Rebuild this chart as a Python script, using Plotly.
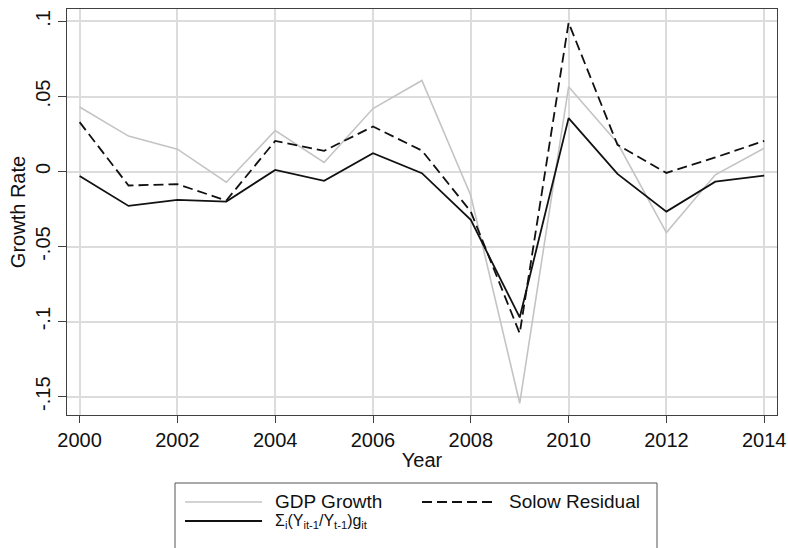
import plotly.graph_objects as go

# Annual growth rates, 2000-2014
years = list(range(2000, 2015))
gdp_growth = [0.043, 0.0236, 0.0149, -0.0071, 0.0273, 0.006, 0.042, 0.0607,
              -0.016, -0.1544, 0.0565, 0.019, -0.0407, -0.0022, 0.0156]
solow_residual = [0.0329, -0.0093, -0.0084, -0.0193, 0.0204, 0.0138, 0.030, 0.014,
                  -0.0267, -0.1078, 0.0992, 0.0178, -0.0009, 0.0094, 0.0204]
weighted_sum = [-0.0029, -0.0229, -0.0189, -0.020, 0.0011, -0.0062, 0.0122, -0.0011,
                -0.0322, -0.0972, 0.0356, -0.0016, -0.0267, -0.0067, -0.0027]

x_ticks = list(range(2000, 2015, 2))
y_tick_vals = [0.1, 0.05, 0.0, -0.05, -0.1, -0.15]
y_tick_text = [".1", ".05", "0", "-.05", "-.1", "-.15"]

series_labels = [
    "GDP Growth",
    "Solow Residual",
    "\u03a3<sub>i</sub>(Y<sub>it-1</sub>/Y<sub>t-1</sub>)g<sub>it</sub>",
]
series_values = [gdp_growth, solow_residual, weighted_sum]
series_styles = [
    dict(color="#c4c4c4", width=1.6, dash="solid"),
    dict(color="#111111", width=1.8, dash="10px,5px"),
    dict(color="#111111", width=1.8, dash="solid"),
]

FONT = "Liberation Sans, Arial, sans-serif"
W, H = 788, 548
ML, MR, MT, MB = 67, 11, 9, 133

fig = go.Figure()
for label, vals, style in zip(series_labels, series_values, series_styles):
    fig.add_trace(go.Scatter(x=years, y=vals, mode="lines", name=label,
                             line=style, showlegend=False))

# Boxed legend below the plot: two columns, second row holds the third series
plot_w = W - ML - MR
plot_h = H - MT - MB


def px_x(px):
    return (px - ML) / plot_w


def px_y(py):
    return (H - MB - py) / plot_h


legend_slots = [(185, 502), (422, 502), (185, 521)]
sample_len = [77, 71, 77]
text_off = [88, 85, 88]
legend_font = [19, 19, 16]
shapes = [dict(type="rect", xref="paper", yref="paper",
               x0=px_x(175), x1=px_x(657), y0=px_y(483), y1=px_y(600),
               line=dict(color="#555555", width=1), fillcolor="rgba(0,0,0,0)")]
annotations = []
for i, (label, style) in enumerate(zip(series_labels, series_styles)):
    sx, sy = legend_slots[i]
    shapes.append(dict(type="line", xref="paper", yref="paper",
                       x0=px_x(sx), x1=px_x(sx + sample_len[i]),
                       y0=px_y(sy), y1=px_y(sy), line=style))
    annotations.append(dict(xref="paper", yref="paper", x=px_x(sx + text_off[i]),
                            y=px_y(sy), text=label, showarrow=False,
                            xanchor="left", yanchor="middle",
                            font=dict(family=FONT, size=legend_font[i],
                                      color="#111111")))

fig.update_layout(
    width=W, height=H,
    margin=dict(l=ML, r=MR, t=MT, b=MB, pad=0),
    paper_bgcolor="white", plot_bgcolor="white",
    font=dict(family=FONT, size=20, color="#111111"),
    shapes=shapes, annotations=annotations,
    showlegend=False,
)
fig.update_xaxes(
    range=[1999.742, 2014.262], tickvals=x_ticks, ticks="outside", ticklen=7,
    tickcolor="#404040", tickwidth=1.2, automargin=False,
    showgrid=True, gridcolor="#dcdcdc", gridwidth=1.5, zeroline=False,
    showline=True, linecolor="#404040", linewidth=1.3, mirror=True,
    title=dict(text="Year", standoff=2, font=dict(size=20)),
    tickfont=dict(size=20),
)
fig.update_yaxes(
    range=[-0.1622, 0.1083], tickvals=y_tick_vals, ticktext=y_tick_text,
    ticks="outside", ticklen=8, tickcolor="#404040", tickwidth=1.2, tickangle=-90,
    automargin=False,
    showgrid=True, gridcolor="#dcdcdc", gridwidth=1.5, zeroline=False,
    showline=True, linecolor="#404040", linewidth=1.3, mirror=True,
    title=dict(text="Growth Rate", standoff=0, font=dict(size=20)),
    tickfont=dict(size=20),
)

fig.write_html("out.html")
